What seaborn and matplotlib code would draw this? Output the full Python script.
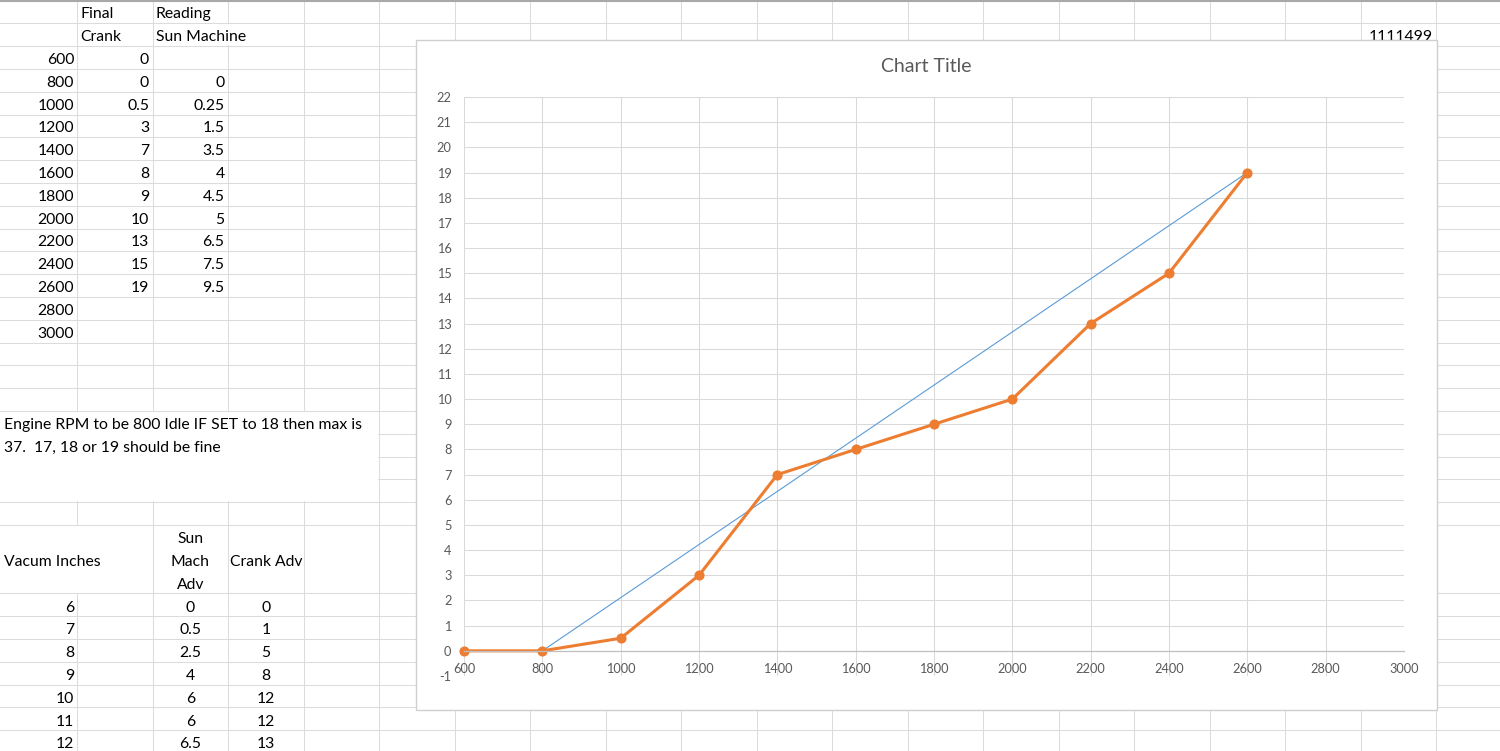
import matplotlib
matplotlib.use("Agg")
import numpy as np
import pandas as pd
import matplotlib.pyplot as plt
import seaborn as sns
from matplotlib.patches import Rectangle

sns.set_style("white")
plt.rcParams['font.family'] = ['Lato', 'DejaVu Sans']
plt.rcParams['axes.unicode_minus'] = False

# sheet data
table_rpm = [600, 800, 1000, 1200, 1400, 1600, 1800, 2000, 2200, 2400, 2600, 2800, 3000]
final_crank = [0, 0, 0.5, 3, 7, 8, 9, 10, 13, 15, 19]
sun_machine = [None, 0, 0.25, 1.5, 3.5, 4, 4.5, 5, 6.5, 7.5, 9.5]

vacuum_in = [6, 7, 8, 9, 10, 11, 12]
sun_mach_adv = [0, 0.5, 2.5, 4, 6, 6, 6.5]
crank_adv = [0, 1, 5, 8, 12, 12, 13]

note_lines = ["Engine RPM to be 800 Idle IF SET to 18 then max is",
              "37.  17, 18 or 19 should be fine"]
stray_cell = "1111499"

# chart series
chart_rpm = table_rpm[:len(final_crank)]
ref_rpm = [800, 2600]
ref_adv = [0, 19]

df = pd.DataFrame({'rpm': chart_rpm, 'crank': final_crank})

# --- sheet background, pixel coordinates ---
fig = plt.figure(figsize=(15, 7.51), dpi=100)
bg = fig.add_axes([0, 0, 1, 1])
bg.set_xlim(0, 1500)
bg.set_ylim(751, 0)
bg.axis('off')

row_h = 22.8


def rb(k):
    # bottom edge of sheet row k (row 24 is triple height)
    return 0.5 + row_h * (k if k <= 23 else k + 2)


col_x = [77 + 75.5 * k for k in range(20)]
grid_c = '#dcdcdc'
for k in range(1, 32):
    bg.plot([0, 1500], [rb(k), rb(k)], color=grid_c, lw=0.75, zorder=1)
for x in col_x:
    bg.plot([x, x], [0, 751], color=grid_c, lw=0.75, zorder=1)
bg.plot([0, 1500], [1.2, 1.2], color='#a8a8a8', lw=1.5, zorder=2)

# merged / overflowing cells hide gridlines
bg.add_patch(Rectangle((0, rb(18) + 0.7), col_x[4] - 0.8, rb(22) - rb(18) - 1.4,
                       fc='white', ec='none', zorder=1.5))
bg.add_patch(Rectangle((col_x[2] - 1.5, rb(1) + 0.7), 3, rb(2) - rb(1) - 1.4,
                       fc='white', ec='none', zorder=1.5))
bg.add_patch(Rectangle((col_x[0] - 1.5, rb(23) + 0.7), 3, rb(24) - rb(23) - 1.4,
                       fc='white', ec='none', zorder=1.5))

cell_fs = 11.3
tkw = dict(fontsize=cell_fs, color='black', va='baseline', zorder=4)


def fmt(v):
    return '' if v is None else f'{v:g}'


bg.text(col_x[0] + 3, rb(1) - 5, 'Final', ha='left', **tkw)
bg.text(col_x[0] + 3, rb(2) - 5, 'Crank', ha='left', **tkw)
bg.text(col_x[1] + 3, rb(1) - 5, 'Reading', ha='left', **tkw)
bg.text(col_x[1] + 3, rb(2) - 5, 'Sun Machine', ha='left', **tkw)
for i, r in enumerate(table_rpm):
    y = rb(3 + i) - 5
    bg.text(col_x[0] - 3, y, str(r), ha='right', **tkw)
    if i < len(final_crank):
        bg.text(col_x[1] - 3.5, y, fmt(final_crank[i]), ha='right', **tkw)
        bg.text(col_x[2] - 3.5, y, fmt(sun_machine[i]), ha='right', **tkw)

for j, line in enumerate(note_lines):
    bg.text(4, rb(19 + j) - 4.5, line, ha='left', **tkw)

mid24 = rb(24) - 27.5
bg.text(4, mid24, 'Vacum Inches', ha='left', **tkw)
cC = (col_x[1] + col_x[2]) / 2
cD = (col_x[2] + col_x[3]) / 2
for j, w in enumerate(['Sun', 'Mach', 'Adv']):
    bg.text(cC, mid24 + (j - 1) * 22.8, w, ha='center', **tkw)
bg.text(cD, mid24, 'Crank Adv', ha='center', **tkw)
for i in range(len(vacuum_in)):
    y = rb(25 + i) - 4.5
    bg.text(col_x[0] - 3, y, str(vacuum_in[i]), ha='right', **tkw)
    bg.text(cC, y, fmt(sun_mach_adv[i]), ha='center', **tkw)
    bg.text(cD, y, fmt(crank_adv[i]), ha='center', **tkw)

bg.text(col_x[18] - 3.5, rb(2) - 5, stray_cell, ha='right', **tkw)

# chart frame
bg.add_patch(Rectangle((416, 40), 1021, 670, fc='white', ec='#cfcfcf', lw=1, zorder=5))
bg.text(926, 66, 'Chart Title', ha='center', va='center', fontsize=14,
        color='#595959', zorder=6)

# --- plot area ---
ax = fig.add_axes([464 / 1500, 1 - 676 / 751, 940 / 1500, 579 / 751])
ax.set_facecolor('white')
sns.lineplot(x=ref_rpm, y=ref_adv, color='#5B9BD5', linewidth=0.8, ax=ax)
sns.lineplot(data=df, x='rpm', y='crank', color='#ED7D31', linewidth=2.2,
             marker='o', markersize=7.3, markeredgewidth=0, ax=ax)
for ln in ax.lines:
    ln.set_clip_on(False)

ax.set_xlim(600, 3000)
ax.set_ylim(-1, 22)
ax.set_xticks(range(600, 3001, 200))
ax.set_yticks(range(-1, 23))
ax.grid(True, color='#d9d9d9', linewidth=0.75)
ax.set_axisbelow(True)
for s in ['top', 'right', 'left']:
    ax.spines[s].set_visible(False)
ax.spines['bottom'].set_position(('data', 0))
ax.spines['bottom'].set_color('#bfbfbf')
ax.spines['bottom'].set_linewidth(0.9)
ax.tick_params(axis='both', length=0, labelsize=9.2, labelcolor='#595959')
ax.tick_params(axis='x', pad=9)
ax.tick_params(axis='y', pad=9)
ax.set_xlabel('')
ax.set_ylabel('')

fig.savefig('out.png', dpi=100)
